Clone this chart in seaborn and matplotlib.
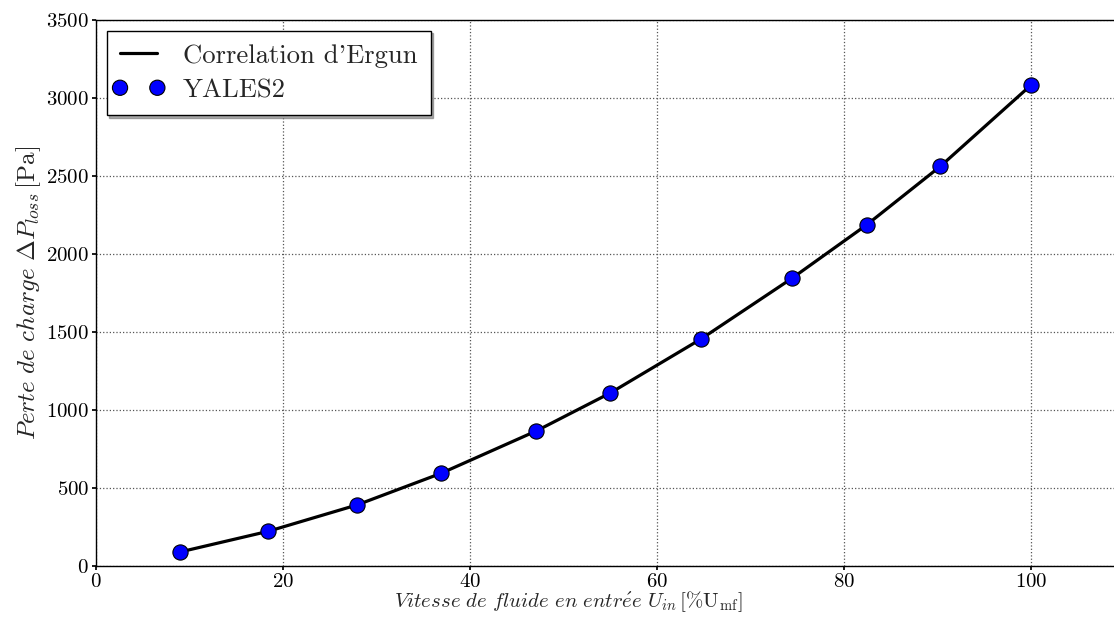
import numpy as np
import pandas as pd
import seaborn as sns
import matplotlib.pyplot as plt
from matplotlib.font_manager import FontProperties
from matplotlib.legend_handler import HandlerPathCollection
from matplotlib.collections import PathCollection

# vitesse en %Umf et perte de charge en Pa
vitesse = [9.0, 18.4, 27.9, 36.9, 47.1, 55.0, 64.7, 74.4, 82.4, 90.3, 100.0]
ergun = [90, 222, 391, 594, 866, 1109, 1455, 1843, 2186, 2562, 3083]
yales2 = [90, 222, 391, 594, 866, 1109, 1455, 1843, 2186, 2562, 3083]

df = pd.DataFrame({"vitesse": vitesse, "ergun": ergun, "yales2": yales2})

sns.set_theme(style="white")
plt.rcParams["font.family"] = ["cmr10", "DejaVu Serif"]
plt.rcParams["mathtext.fontset"] = "cm"
plt.rcParams["axes.formatter.use_mathtext"] = True

fig = plt.figure(figsize=(11.14, 6.17), dpi=100)
# axe coupé à droite comme sur l'original
ax = fig.add_axes([0.0862, 0.0827, 0.9233, 0.8849])

sns.lineplot(data=df, x="vitesse", y="ergun", ax=ax, color="black",
             linewidth=2.3, label="Correlation d'Ergun")
sns.scatterplot(data=df, x="vitesse", y="yales2", ax=ax, color="#0000ff",
                edgecolor="black", linewidth=0.8, s=120, zorder=3,
                label="YALES2")

ax.set_xlim(0, 110)
ax.set_ylim(0, 3500)
ax.set_xticks([0, 20, 40, 60, 80, 100])
ax.set_yticks(range(0, 3501, 500))
ax.grid(True, linestyle=":", color="#555555", linewidth=0.9)
for s in ax.spines.values():
    s.set_color("black")
    s.set_linewidth(1.0)
ax.tick_params(labelsize=15, colors="black", direction="out", length=3,
               pad=2, left=True, bottom=True)

ax.set_xlabel(r"$Vitesse\ de\ fluide\ en\ entr\acute{e}e\ U_{in}\,[\%\mathrm{U_{mf}}]$",
              fontsize=15)
ax.xaxis.set_label_coords(0.459, -0.043)
ax.set_ylabel(r"$Perte\ de\ charge\ \Delta P_{loss}\,$[Pa]", fontsize=18, labelpad=2)

leg = ax.legend(loc="upper left", prop=FontProperties(family=["cmr10", "DejaVu Serif"], size=19.2),
                shadow={"color": "0.45", "alpha": 0.6, "ox": 2, "oy": -2},
                fancybox=False, framealpha=1, scatterpoints=2,
                scatteryoffsets=[0.5], edgecolor="black", borderaxespad=0.4,
                handlelength=1.4, handletextpad=0.95, borderpad=0.5,
                labelspacing=0.4,
                handler_map={PathCollection: HandlerPathCollection(marker_pad=0.0)})
leg.get_frame().set_linewidth(1.0)

plt.savefig("out.png", dpi=100)
